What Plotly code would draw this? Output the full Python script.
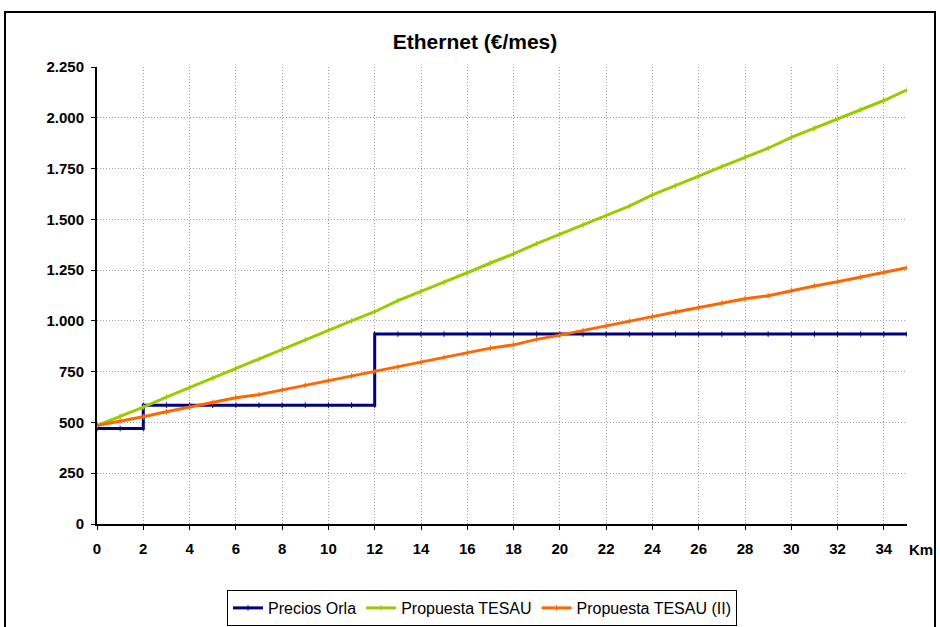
import plotly.graph_objects as go

# Data
km = list(range(0, 36))
orla_x = [0, 1, 2, 2, 3, 4, 5, 6, 7, 8, 9, 10, 11, 12, 12, 13, 14, 15, 16, 17, 18, 19, 20,
          21, 22, 23, 24, 25, 26, 27, 28, 29, 30, 31, 32, 33, 34, 35]
orla_y = [470, 470, 470, 585, 585, 585, 585, 585, 585, 585, 585, 585, 585, 585, 935, 935, 935,
          935, 935, 935, 935, 935, 935, 935, 935, 935, 935, 935, 935, 935, 935, 935, 935, 935,
          935, 935, 935, 935]
tesau = [485, 530, 575, 625, 672, 718, 765, 812, 862, 908, 955, 1000, 1045, 1100, 1145, 1190,
         1237, 1285, 1330, 1380, 1426, 1472, 1518, 1565, 1620, 1665, 1713, 1760, 1805, 1850,
         1903, 1948, 1993, 2040, 2085, 2137]
tesau2 = [485, 506, 528, 553, 577, 599, 622, 637, 660, 683, 706, 729, 750, 773, 796, 820, 842,
          866, 882, 909, 930, 952, 976, 999, 1021, 1044, 1065, 1088, 1109, 1124, 1149, 1172,
          1193, 1216, 1239, 1262]
x_ticks = list(range(0, 35, 2))
y_ticks = [0, 250, 500, 750, 1000, 1250, 1500, 1750, 2000, 2250]

FONT = "Liberation Sans, Arial, sans-serif"

fig = go.Figure()

def add(name, x, y, color):
    fig.add_trace(go.Scatter(
        x=x, y=y, name=name, mode="lines+markers",
        line=dict(color=color, width=3),
        marker=dict(symbol="line-ns-open", size=4, color=color,
                    line=dict(color=color, width=1)),
    ))

add("Precios Orla", orla_x, orla_y, "#000080")
add("Propuesta TESAU", km, tesau, "#99CC00")
add("Propuesta TESAU (II)", km, tesau2, "#FF6600")

L, R, T, B = 97, 33, 67, 103
W, H = 940, 627
pw, ph = W - L - R, H - T - B

def px_x(p):
    return (p - L) / pw

def px_y(p):
    return (H - B - p) / ph

GRID = "#a0a0a0"

fig.update_layout(
    width=W, height=H,
    margin=dict(l=L, r=R, t=T, b=B, autoexpand=False),
    paper_bgcolor="white", plot_bgcolor="white",
    separators=",.",
    font=dict(family=FONT, color="black"),
    title=dict(text="<b>Ethernet (€/mes)</b>", x=475 / W, xref="container",
               y=1 - 42 / H, yref="container", xanchor="center", yanchor="middle",
               font=dict(size=21, family=FONT, color="black")),
    showlegend=True,
    legend=dict(orientation="h", x=482 / W, y=1 - 590 / H, xanchor="center", yanchor="top",
                xref="container", yref="container",
                bordercolor="black", borderwidth=1, bgcolor="white",
                font=dict(size=16, family=FONT, color="black"),
                itemwidth=30, tracegroupgap=0),
    xaxis=dict(range=[0, 35], tickvals=x_ticks, ticks="outside", ticklen=4,
               tickcolor="black", showline=True, linecolor="black", linewidth=2,
               showgrid=True, gridcolor=GRID, griddash="1px,2px", gridwidth=1,
               zeroline=False, ticklabelstandoff=6,
               tickfont=dict(size=15, family=FONT, weight="bold")),
    yaxis=dict(range=[0, 2250], tickvals=y_ticks, tickformat=",d", ticks="outside",
               ticklen=4, tickcolor="black", showline=True, linecolor="black", linewidth=2,
               showgrid=True, gridcolor=GRID, griddash="1px,2px", gridwidth=1,
               zeroline=False, ticklabelstandoff=4,
               tickfont=dict(size=15, family=FONT, weight="bold")),
    annotations=[dict(text="<b>Km</b>", x=px_x(921), y=px_y(549), xref="paper", yref="paper",
                      showarrow=False, font=dict(size=15, family=FONT, color="black"),
                      xanchor="center", yanchor="middle")],
    shapes=[dict(type="rect", xref="paper", yref="paper",
                 x0=px_x(5), x1=px_x(935), y0=px_y(640), y1=px_y(12),
                 line=dict(color="black", width=2), fillcolor="rgba(0,0,0,0)", layer="below")],
)

fig.write_html("out.html", config={"displayModeBar": False},
               post_script="document.body.style.margin='0';document.body.style.overflow='hidden';")
